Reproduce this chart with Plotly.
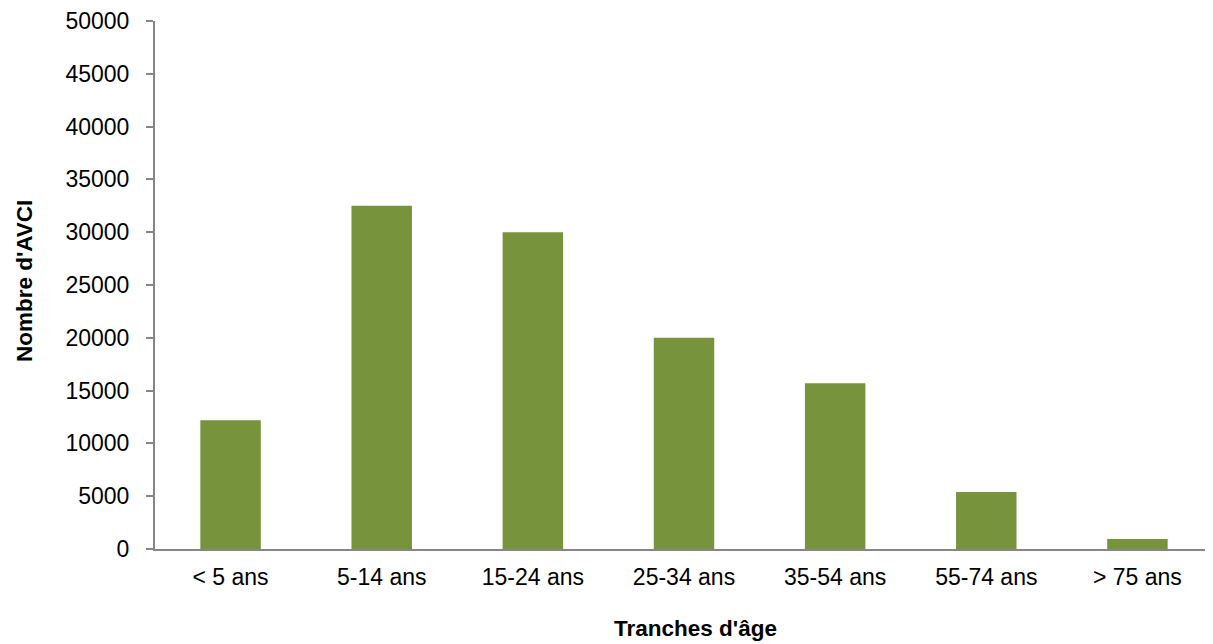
import plotly.graph_objects as go

categories = ["< 5 ans", "5-14 ans", "15-24 ans", "25-34 ans", "35-54 ans", "55-74 ans", "> 75 ans"]
values = [12200, 32500, 30000, 20000, 15700, 5400, 950]
y_ticks = list(range(0, 50001, 5000))

fig = go.Figure(go.Bar(x=categories, y=values, marker=dict(color="#77933C", line=dict(width=0)), width=0.4))

font = "Liberation Sans, Arial, sans-serif"
fig.update_layout(
    width=1213, height=644,
    margin=dict(l=147, r=8, t=13, b=103),
    plot_bgcolor="white", paper_bgcolor="white",
    font=dict(family=font, size=23, color="black"),
    showlegend=False,
    annotations=[
        dict(text="<b>Tranches d'âge</b>", xref="paper", yref="paper", x=0.511, y=-0.1515,
             xanchor="center", yanchor="middle", showarrow=False, font=dict(size=22.5)),
        dict(text="<b>Nombre d'AVCI</b>", xref="paper", yref="paper", x=-0.1235, y=0.508,
             xanchor="center", yanchor="middle", textangle=-90, showarrow=False, font=dict(size=22.5)),
    ],
)
fig.update_xaxes(
    showline=True, linecolor="#868686", linewidth=2, automargin=False,
    ticks="", showgrid=False, tickfont=dict(size=23), ticklabelstandoff=6,
)
fig.update_yaxes(
    range=[0, 50000], tickvals=y_ticks, ticktext=[str(v) for v in y_ticks],
    showline=True, linecolor="#868686", linewidth=2, automargin=False,
    ticks="outside", ticklen=7, tickcolor="#868686", tickwidth=2,
    showgrid=False, zeroline=False, tickfont=dict(size=23), ticklabelstandoff=12,
)
fig.write_html("out.html")
